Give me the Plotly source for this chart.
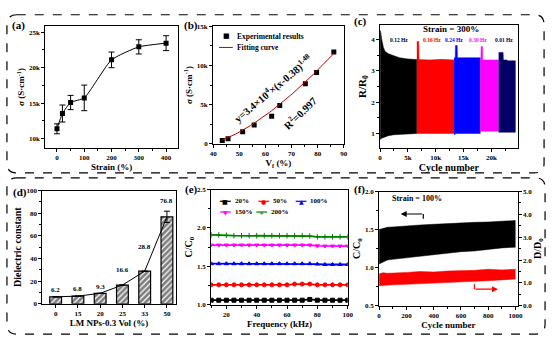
import plotly.graph_objects as go
import numpy as np

W, H = 554, 343
SERIF = "Liberation Serif"


def px(x):
    return x / W


def py(y):
    return 1 - y / H


# ---------------- data ----------------
# (a) conductivity vs strain
strain_a = [0, 20, 50, 100, 200, 300, 400]
sigma_a = [11400, 13550, 15100, 15750, 21100, 22930, 23450]
err_a = [700, 1200, 1000, 1800, 1100, 1000, 1050]

# (b) conductivity vs volume fraction
vf_b = [43.5, 45.7, 51.3, 55.7, 62.4, 65.5, 75.3, 79.6, 86.2]
sigma_b = [410, 620, 1530, 2400, 3520, 4890, 7670, 9120, 11730]
fit_a, fit_c, fit_t = 3.4e4, 0.38, 1.48

# (c) cyclic R/R0 envelopes per frequency segment
seg_labels = ["0.12 Hz", "0.16 Hz", "0.24 Hz", "0.30 Hz", "0.01 Hz"]
seg_colors = ["#000000", "#ff0000", "#0000ff", "#ff00ff", "#000066"]
seg_cycles = [
    [0, 100, 300, 600, 900, 1500, 2500, 3500, 5000, 6600],
    [6600, 6650, 6950, 7000, 9000, 11000, 13300],
    [13300, 13500, 13550, 13850, 13900, 16000, 18000],
    [18000, 18100, 18150, 18400, 18450, 20000, 21300],
    [21300, 21350, 22100, 22150, 22800, 22850, 24300],
]
seg_upper = [
    [4.3, 4.25, 4.0, 3.75, 3.62, 3.55, 3.48, 3.42, 3.38, 3.36],
    [3.94, 3.94, 3.94, 3.36, 3.35, 3.37, 3.35],
    [3.42, 3.42, 3.81, 3.81, 3.42, 3.42, 3.42],
    [3.35, 3.35, 3.78, 3.78, 3.35, 3.35, 3.35],
    [3.59, 3.59, 3.59, 3.35, 3.35, 3.32, 3.32],
]
seg_lower = [
    [0.8, 0.82, 0.85, 0.88, 0.9, 0.93, 0.96, 0.98, 0.99, 1.0],
    [1.0, 1.0, 1.0, 1.0, 1.0, 1.0, 1.0],
    [0.97, 0.97, 1.0, 1.0, 1.0, 1.0, 1.0],
    [1.07, 1.07, 1.07, 1.07, 1.07, 1.07, 1.07],
    [1.04, 1.04, 1.04, 1.04, 1.04, 1.04, 1.04],
]

# (d) dielectric constant
cats_d = ["0", "15", "20", "25", "33", "50"]
eps_d = [6.2, 6.8, 9.3, 16.6, 28.8, 76.8]
err_d = [0, 0, 0, 0, 0, 5.0]
label_shift_d = [1, 1, 0, 9, 18, 10]

# (e) C/C0 vs frequency at several strains
freq_e = [10, 15, 20, 25, 30, 35, 40, 45, 50, 55, 60, 65, 70, 75, 80, 85, 90, 95, 100]
names_e = ["20%", "50%", "100%", "150%", "200%"]
colors_e = ["#000000", "#ff0000", "#0000ff", "#ff00ff", "#008000"]
symbols_e = ["square", "circle", "triangle-up", "triangle-down", "cross-thin"]
glyphs_e = ["■", "●", "▲", "▼", "+"]
cc_e = [
    [1.06, 1.06, 1.06, 1.06, 1.06, 1.06, 1.06, 1.06, 1.06, 1.06, 1.06, 1.06, 1.06, 1.07, 1.06, 1.06, 1.06, 1.06, 1.06],
    [1.26, 1.26, 1.26, 1.26, 1.26, 1.26, 1.26, 1.26, 1.26, 1.26, 1.26, 1.27, 1.27, 1.27, 1.26, 1.26, 1.26, 1.26, 1.26],
    [1.535, 1.535, 1.535, 1.535, 1.535, 1.535, 1.535, 1.535, 1.535, 1.535, 1.535, 1.535, 1.535, 1.535, 1.53, 1.525, 1.525, 1.525, 1.525],
    [1.778, 1.778, 1.778, 1.778, 1.778, 1.778, 1.778, 1.778, 1.778, 1.778, 1.778, 1.778, 1.778, 1.778, 1.768, 1.765, 1.765, 1.765, 1.765],
    [1.91, 1.91, 1.905, 1.9, 1.9, 1.9, 1.9, 1.9, 1.9, 1.9, 1.9, 1.9, 1.9, 1.895, 1.885, 1.885, 1.885, 1.885, 1.885],
]

# (f) cyclic C/C0 and D/D0 envelopes at strain 100%
cyc_f = [0, 30, 60, 100, 200, 300, 400, 500, 600, 700, 800, 900, 1000]
c_upper_f = [1.50, 1.52, 1.53, 1.535, 1.55, 1.56, 1.57, 1.58, 1.59, 1.595, 1.60, 1.61, 1.62]
c_lower_f = [1.05, 1.08, 1.10, 1.11, 1.13, 1.15, 1.17, 1.19, 1.21, 1.22, 1.24, 1.26, 1.27]
d_upper_f = [1.40, 1.45, 1.42, 1.44, 1.46, 1.50, 1.48, 1.52, 1.53, 1.55, 1.60, 1.57, 1.60]
d_lower_f = [0.88, 0.90, 0.92, 0.92, 0.94, 0.96, 0.99, 1.01, 1.04, 1.07, 1.10, 1.13, 1.17]

# ---------------- figure ----------------
fig = go.Figure()
tf = dict(family=SERIF, size=7, color="black", weight="bold")
titlef = dict(family=SERIF, size=9, color="black", weight="bold")


def axstyle(**kw):
    d = dict(showline=True, linecolor="black", linewidth=1, mirror=True,
             ticks="outside", ticklen=3, tickwidth=1, tickcolor="black",
             showgrid=False, zeroline=False, tickfont=tf,
             minor=dict(ticks="outside", ticklen=2, tickcolor="black", tickwidth=1))
    for k, v in kw.items():
        if k == "minor_dtick":
            d["minor"] = dict(d["minor"], dtick=v)
        elif k == "nominor":
            d.pop("minor")
        else:
            d[k] = v
    return d


# (a)
fig.add_trace(go.Scatter(x=strain_a, y=sigma_a, mode="lines+markers",
                         line=dict(color="black", width=1, shape="spline", smoothing=0.5),
                         marker=dict(symbol="square", size=5, color="black"),
                         error_y=dict(type="data", array=err_a, color="black", thickness=1, width=3),
                         xaxis="x", yaxis="y", showlegend=False))

# (b)
xf = np.linspace(vf_b[0], vf_b[-1], 60)
yf = fit_a * np.power(xf / 100 - fit_c, fit_t)
fig.add_trace(go.Scatter(x=vf_b, y=sigma_b, mode="markers", name="Experimental results",
                         marker=dict(symbol="square", size=5, color="black"),
                         xaxis="x2", yaxis="y2", showlegend=False))
fig.add_trace(go.Scatter(x=xf, y=yf, mode="lines", name="Fitting curve",
                         line=dict(color="#c00000", width=1),
                         xaxis="x2", yaxis="y2", showlegend=False))

# (c)
for cyc, up, lo, col in zip(seg_cycles, seg_upper, seg_lower, seg_colors):
    fig.add_trace(go.Scatter(x=cyc + cyc[::-1], y=up + lo[::-1], fill="toself",
                             fillcolor=col, line=dict(color=col, width=0.5), mode="lines",
                             xaxis="x3", yaxis="y3", showlegend=False))

# (d)
fig.add_trace(go.Bar(x=cats_d, y=eps_d, width=0.53,
                     marker=dict(color="white", line=dict(color="black", width=1.2),
                                 pattern=dict(shape="/", fgcolor="black", bgcolor="white",
                                              size=4, solidity=0.7)),
                     error_y=dict(type="data", array=err_d, color="black", thickness=1, width=3),
                     xaxis="x4", yaxis="y4", showlegend=False))
fig.add_trace(go.Scatter(x=cats_d, y=eps_d, mode="lines", line=dict(color="black", width=1),
                         xaxis="x4", yaxis="y4", showlegend=False))

# (e)
for i, (nm, col, sym, vals) in enumerate(zip(names_e, colors_e, symbols_e, cc_e)):
    fig.add_trace(go.Scatter(x=freq_e, y=vals, mode="lines+markers", name=nm,
                             line=dict(color=col, width=1.8),
                             marker=dict(symbol=sym, size=4, color=col,
                                         line=dict(color=col, width=1)),
                             xaxis="x5", yaxis="y5", showlegend=False))

# (f)
fig.add_trace(go.Scatter(x=cyc_f, y=c_lower_f, mode="lines", line=dict(color="black", width=0.5),
                         xaxis="x6", yaxis="y6", showlegend=False))
fig.add_trace(go.Scatter(x=cyc_f, y=c_upper_f, mode="lines", line=dict(color="black", width=0.5),
                         fill="tonexty", fillcolor="black",
                         xaxis="x6", yaxis="y6", showlegend=False))
fig.add_trace(go.Scatter(x=cyc_f, y=d_lower_f, mode="lines", line=dict(color="red", width=0.5),
                         xaxis="x6", yaxis="y7", showlegend=False))
fig.add_trace(go.Scatter(x=cyc_f, y=d_upper_f, mode="lines", line=dict(color="red", width=0.5),
                         fill="tonexty", fillcolor="red",
                         xaxis="x6", yaxis="y7", showlegend=False))

fig.update_layout(
    width=W, height=H, margin=dict(l=0, r=0, t=0, b=0),
    paper_bgcolor="white", plot_bgcolor="white", showlegend=False,
    font=dict(family=SERIF, color="black"),
    # (a)
    xaxis=axstyle(domain=[px(42), px(177)], anchor="y", range=[-43, 443], dtick=100, minor_dtick=50,
                  title=dict(text="Strain (%)", font=titlef, standoff=2)),
    yaxis=axstyle(domain=[py(147), py(23)], anchor="x", range=[8760, 25800], dtick=5000,
                  tickformat="~s", minor_dtick=2500,
                  title=dict(text="σ (S·cm<sup>-1</sup>)", font=titlef, standoff=2)),
    # (b)
    xaxis2=axstyle(domain=[px(213), px(346)], anchor="y2", range=[40, 90], dtick=10, minor_dtick=5,
                   title=dict(text="V<sub>f</sub> (%)", font=titlef, standoff=2)),
    yaxis2=axstyle(domain=[py(143), py(23)], anchor="x2", range=[0, 15000], dtick=5000,
                   tickformat="~s", minor_dtick=2500,
                   title=dict(text="σ (S·cm<sup>-1</sup>)", font=titlef, standoff=2)),
    # (c)
    xaxis3=axstyle(domain=[px(383), px(523)], anchor="y3", range=[0, 24700], dtick=5000,
                   tickformat="~s", minor_dtick=2500,
                   title=dict(text="Cycle number", font=dict(titlef, size=10), standoff=2)),
    yaxis3=axstyle(domain=[py(147), py(22)], anchor="x3", range=[0.55, 4.45], dtick=1, minor_dtick=0.5,
                   title=dict(text="R/R<sub>0</sub>", font=dict(titlef, size=11), standoff=2)),
    # (d)
    xaxis4=axstyle(domain=[px(39), px(175)], anchor="y4", type="category", range=[-0.6, 5.4],
                   nominor=True,
                   title=dict(text="LM NPs-0.3 Vol (%)", font=titlef, standoff=2)),
    yaxis4=axstyle(domain=[py(307), py(191)], anchor="x4", range=[0, 100], dtick=20, minor_dtick=10,
                   title=dict(text="Dielectric constant", font=dict(titlef, size=10), standoff=2)),
    # (e)
    xaxis5=axstyle(domain=[px(211), px(350)], anchor="y5", range=[10, 100], dtick=20, minor_dtick=10,
                   title=dict(text="Frequency (kHz)", font=titlef, standoff=2)),
    yaxis5=axstyle(domain=[py(308), py(190)], anchor="x5", range=[1.0, 2.5], dtick=0.5,
                   tickformat=".1f", minor_dtick=0.25,
                   title=dict(text="C/C<sub>0</sub>", font=dict(titlef, size=10), standoff=2)),
    # (f)
    xaxis6=axstyle(domain=[px(382), px(523)], anchor="y6", range=[0, 1015], dtick=200, minor_dtick=100,
                   title=dict(text="Cycle number", font=titlef, standoff=2)),
    yaxis6=axstyle(domain=[py(309), py(192)], anchor="x6", range=[0.5, 2.0], dtick=0.5,
                   tickformat=".1f", minor_dtick=0.25,
                   title=dict(text="C/C<sub>0</sub>", font=dict(titlef, size=10), standoff=2)),
    yaxis7=axstyle(overlaying="y6", side="right", anchor="x6", range=[0, 5], dtick=1,
                   tickformat=".1f", minor_dtick=0.5, mirror=False,
                   title=dict(text="D/D<sub>0</sub>", font=dict(titlef, size=10), standoff=2)),
)

ann = []
shapes = []


def text(t, x, y, size, color="black", xanchor="center", angle=0, family=SERIF, bold=True):
    ann.append(dict(text=t, x=px(x), y=py(y), xref="paper", yref="paper", xanchor=xanchor,
                    yanchor="middle", showarrow=False, textangle=angle,
                    font=dict(family=family, size=size, color=color,
                              weight="bold" if bold else "normal")))


def hline(x0, x1, y, color, width=1.2):
    shapes.append(dict(type="line", xref="paper", yref="paper", x0=px(x0), x1=px(x1),
                       y0=py(y), y1=py(y), line=dict(color=color, width=width)))


# panel labels
for lab, x, y in [("(a)", 6, 22), ("(b)", 181, 22), ("(c)", 354, 18),
                  ("(d)", 7, 193), ("(e)", 182, 190), ("(f)", 354, 190)]:
    text(lab, x, y, 11, xanchor="left")

# (b) legend (drawn manually, compact like the original)
text("■", 227, 33, 7, family="DejaVu Sans", bold=False)
text("Experimental results", 235, 33, 7.5, xanchor="left")
hline(219, 233, 44.5, "#c00000", 1)
text("Fitting curve", 235, 44.5, 7.5, xanchor="left")

# (b) equation texts
text("y=3.4×10<sup>4</sup>×(x-0.38)<sup>1.48</sup>", 274, 86, 10.5, angle=-40)
text("R<sup>2</sup>=0.997", 301, 111, 10.5, angle=-44)

# (c) texts
text("Strain = 300%", 455, 26, 9)
for lab, col, x in zip(seg_labels, seg_colors, [402, 436, 458, 483, 509]):
    text(lab, x, 37, 5.5, color=col)

# (d) value labels (category axis: position by category index)
for i, (v, s) in enumerate(zip(eps_d, label_shift_d)):
    ann.append(dict(text=f"{v:g}", x=i, y=v, xref="x4", yref="y4", yshift=s, showarrow=False,
                    xanchor="center", yanchor="bottom",
                    font=dict(family=SERIF, size=7, color="black", weight="bold")))

# (e) legend (manual, two rows)
leg_e = [(220, 202), (259, 202), (297, 202), (220, 213), (257, 213)]
for (x0, y0), nm, col, g in zip(leg_e, names_e, colors_e, glyphs_e):
    hline(x0, x0 + 11, y0, col, 1.2)
    text(g, x0 + 5.5, y0, 6, color=col, family="DejaVu Sans", bold=False)
    text(nm, x0 + 13, y0, 7, xanchor="left")

# (f) text and arrows
text("Strain = 100%", 393, 199, 8, xanchor="left")
ann.append(dict(x=px(404), y=py(215), ax=23, ay=0, xref="paper", yref="paper",
                text="", showarrow=True, arrowhead=2,
                arrowsize=1, arrowwidth=1.2, arrowcolor="black"))
ann.append(dict(x=px(503), y=py(292), ax=-24, ay=0, xref="paper", yref="paper",
                text="", showarrow=True, arrowhead=2,
                arrowsize=1, arrowwidth=1.2, arrowcolor="red"))
shapes.append(dict(type="line", xref="paper", yref="paper", x0=px(427), x1=px(427),
                   y0=py(215), y1=py(220), line=dict(color="black", width=1.2)))
shapes.append(dict(type="line", xref="paper", yref="paper", x0=px(479), x1=px(479),
                   y0=py(287), y1=py(292), line=dict(color="red", width=1.2)))


def rrect(x0, y0, x1, y1, r):
    pts = [
        f"M {px(x0 + r)},{py(y0)}", f"L {px(x1 - r)},{py(y0)}",
        f"Q {px(x1)},{py(y0)} {px(x1)},{py(y0 + r)}", f"L {px(x1)},{py(y1 - r)}",
        f"Q {px(x1)},{py(y1)} {px(x1 - r)},{py(y1)}", f"L {px(x0 + r)},{py(y1)}",
        f"Q {px(x0)},{py(y1)} {px(x0)},{py(y1 - r)}", f"L {px(x0)},{py(y0 + r)}",
        f"Q {px(x0)},{py(y0)} {px(x0 + r)},{py(y0)}", "Z",
    ]
    return " ".join(pts)


for box in [(3, 11, 550, 173), (3, 178, 551, 338)]:
    shapes.append(dict(type="path", xref="paper", yref="paper", path=rrect(*box, 10),
                       line=dict(color="black", width=1.2, dash="dash")))

fig.update_layout(annotations=ann, shapes=shapes)

fig.write_html("out.html")
